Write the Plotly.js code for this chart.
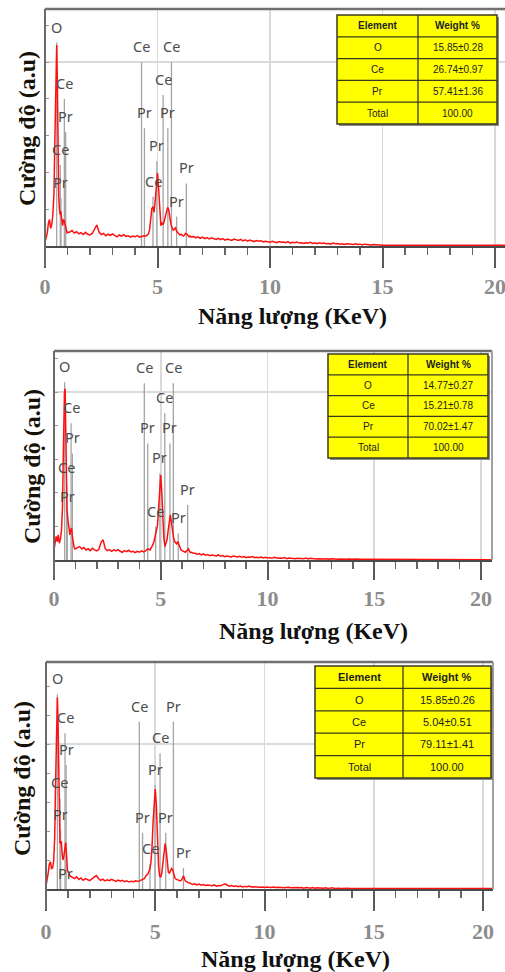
<!DOCTYPE html>
<html><head><meta charset="utf-8">
<script src="https://cdn.plot.ly/plotly-3.0.1.min.js"></script>
<style>html,body{margin:0;padding:0;background:#fff}#chart{width:505px;height:972px}</style>
</head><body><div id="chart"></div>
<script>
// ---- Energy axis (keV), shared by the three spectra ----
const energy = [
 0,0.05,0.1,0.15,0.2,0.25,0.3,0.35,0.4,0.43,0.46,0.49,0.52,0.55,0.58,0.61,0.64,0.67,0.7,0.74,0.78,0.82,0.86,0.9,0.94,0.98,
 1.1,1.2,1.3,1.4,1.5,1.6,1.7,1.8,1.9,2.0,2.1,2.2,2.3,2.4,2.5,2.6,2.7,2.8,2.9,3.0,3.1,3.2,3.3,3.4,3.5,3.6,3.7,3.8,3.9,4.0,4.1,4.2,4.3,4.4,4.5,4.6,
 4.65,4.7,4.75,4.8,4.85,4.9,4.95,5.0,5.05,5.1,5.15,5.2,5.25,5.3,5.35,5.4,5.45,5.5,5.55,5.6,5.65,5.7,5.75,5.8,5.85,5.9,5.95,6.0,6.05,6.1,6.15,6.2,6.25,6.3,6.35,6.4,6.45,6.5,
 6.6,6.7,6.8,6.9,7.0,7.1,7.2,7.3,7.4,7.5,
 7.6,7.7,7.8,7.9,8.0,8.1,8.2,8.3,8.4,8.5,
 8.6,8.7,8.8,8.9,9.0,9.1,9.2,9.3,9.4,9.5,
 9.6,9.7,9.8,9.9,10.0,10.1,10.2,10.3,10.4,10.5,
 10.6,10.7,10.8,10.9,11.0,11.1,11.2,11.3,11.4,11.5,
 11.6,11.7,11.8,11.9,12.0,12.1,12.2,12.3,12.4,12.5,
 12.6,12.7,12.8,12.9,13.0,13.1,13.2,13.3,13.4,13.5,
 13.6,13.7,13.8,13.9,14.0,14.1,14.2,14.3,14.4,14.5,
 14.6,14.7,14.8,14.9,15.0,
 15.1,20.5
];
// ---- Intensities (a.u.) ----
const intensity1 = [
 0.10,0.22,0.35,0.62,0.72,0.48,0.58,0.85,1.45,2.6,4.1,5.2,5.46,4.4,2.5,1.35,1.02,0.85,0.95,0.62,0.55,0.72,0.68,0.58,0.42,0.36,
 0.38,0.42,0.35,0.39,0.33,0.36,0.31,0.37,0.32,0.30,0.34,0.48,0.57,0.38,0.31,0.34,0.28,0.32,0.29,0.33,0.28,0.25,0.30,0.27,0.31,0.26,0.28,0.24,0.27,0.25,0.28,0.24,0.26,0.28,0.27,0.33,
 0.45,0.72,1.02,1.07,0.92,1.25,1.72,1.98,1.55,0.85,0.55,0.62,0.58,0.68,0.80,0.95,1.05,0.98,0.72,0.58,0.50,0.43,0.46,0.49,0.40,0.36,0.33,0.30,0.32,0.28,0.27,0.30,0.34,0.33,0.27,0.25,0.27,0.24,
 0.26,0.22,0.25,0.21,0.24,0.20,0.23,0.19,0.22,0.20,
 0.18,0.21,0.17,0.20,0.16,0.19,0.17,0.15,0.19,0.16,
 0.15,0.18,0.14,0.17,0.13,0.16,0.14,0.12,0.15,0.13,
 0.14,0.11,0.13,0.12,0.10,0.13,0.11,0.09,0.12,0.10,
 0.11,0.09,0.12,0.08,0.10,0.09,0.11,0.08,0.09,0.07,
 0.09,0.08,0.10,0.07,0.08,0.06,0.09,0.07,0.08,0.06,
 0.07,0.05,0.08,0.06,0.07,0.05,0.06,0.04,0.06,0.05,
 0.05,0.04,0.06,0.04,0.05,0.03,0.05,0.04,0.04,0.03,
 0.04,0.03,0.04,0.03,0.02,
 0.02,0.02
];
const intensity2 = [
 0.30,0.50,0.70,0.55,0.75,0.50,0.62,0.88,1.6,2.9,4.2,5.0,5.1,4.3,2.7,1.5,1.2,1.1,0.98,0.75,0.88,0.95,0.70,0.48,0.38,0.33,
 0.36,0.40,0.33,0.37,0.30,0.34,0.28,0.35,0.30,0.27,0.32,0.52,0.60,0.34,0.28,0.31,0.26,0.30,0.27,0.31,0.26,0.23,0.28,0.25,0.29,0.24,0.26,0.22,0.26,0.23,0.27,0.24,0.28,0.33,0.30,0.42,
 0.48,0.60,0.72,0.88,1.05,1.55,2.25,2.53,2.00,1.15,0.62,0.40,0.48,0.62,0.90,1.20,1.34,1.12,0.78,0.66,0.55,0.50,0.48,0.55,0.44,0.36,0.30,0.28,0.26,0.24,0.23,0.27,0.30,0.33,0.25,0.22,0.23,0.21,
 0.20,0.17,0.19,0.15,0.18,0.14,0.16,0.13,0.15,0.14,
 0.12,0.15,0.11,0.13,0.10,0.12,0.11,0.09,0.12,0.10,
 0.09,0.11,0.08,0.10,0.07,0.09,0.08,0.10,0.07,0.08,
 0.07,0.09,0.06,0.08,0.06,0.07,0.05,0.08,0.06,0.05,
 0.06,0.05,0.07,0.04,0.06,0.05,0.06,0.04,0.05,0.04,
 0.05,0.04,0.06,0.03,0.05,0.04,0.05,0.03,0.04,0.03,
 0.04,0.03,0.04,0.02,0.04,0.03,0.03,0.02,0.03,0.02,
 0.03,0.02,0.03,0.02,0.02,0.03,0.02,0.01,0.02,0.02,
 0.02,0.01,0.02,0.01,0.01,
 0.01,0.01
];
const intensity3 = [
 0.10,0.30,0.55,0.85,0.94,0.70,0.72,0.95,1.8,3.3,5.0,6.2,6.6,5.8,3.9,2.1,1.6,1.55,1.65,1.2,1.0,1.15,1.45,1.6,1.2,0.65,
 0.45,0.40,0.36,0.42,0.33,0.38,0.30,0.36,0.32,0.29,0.35,0.42,0.46,0.36,0.30,0.34,0.28,0.32,0.29,0.33,0.28,0.26,0.31,0.27,0.30,0.25,0.28,0.24,0.27,0.25,0.28,0.26,0.29,0.32,0.36,0.48,
 0.50,0.58,0.68,0.90,1.40,2.30,3.10,3.45,2.90,1.70,0.80,0.45,0.40,0.55,0.90,1.30,1.57,1.35,0.85,0.58,0.55,0.62,0.71,0.66,0.48,0.38,0.34,0.32,0.30,0.29,0.28,0.31,0.38,0.45,0.32,0.26,0.25,0.22,
 0.20,0.16,0.18,0.14,0.17,0.13,0.15,0.12,0.14,0.12,
 0.11,0.14,0.10,0.12,0.11,0.15,0.18,0.13,0.10,0.12,
 0.09,0.11,0.08,0.10,0.07,0.09,0.08,0.10,0.07,0.08,
 0.07,0.08,0.06,0.07,0.05,0.07,0.06,0.05,0.07,0.05,
 0.06,0.05,0.06,0.04,0.05,0.06,0.04,0.05,0.04,0.05,
 0.04,0.05,0.03,0.05,0.04,0.03,0.05,0.03,0.04,0.03,
 0.04,0.03,0.04,0.02,0.03,0.04,0.02,0.03,0.03,0.02,
 0.03,0.02,0.03,0.02,0.03,0.02,0.02,0.03,0.02,0.02,
 0.02,0.03,0.02,0.02,0.02,
 0.02,0.02
];
// ---- Element line markers: energy (keV), marker height (a.u.), label ----
const lineEnergy1 = [0.52,0.86,0.92,0.68,0.71,0.89,4.29,5.62,5.25,4.42,5.46,4.97,4.80,6.28,5.85];
const lineHeight1 = [5.53,4.0,3.1,2.2,1.3,-0.27,5.0,5.0,4.1,3.2,3.2,2.3,1.34,1.7,0.8];
const lineLabel1  = ['O','Ce','Pr','Ce','Pr','Pr','Ce','Ce','Ce','Pr','Pr','Pr','Ce','Pr','Pr'];
const lineEnergy2 = [0.50,0.80,0.86,0.59,0.62,0.82,4.23,5.59,5.19,4.39,5.43,4.96,4.76,6.26,5.82];
const lineHeight2 = [5.29,4.07,3.17,2.28,1.44,-0.23,5.26,5.26,4.37,3.47,3.47,2.58,0.99,1.64,0.79];
const lineLabel2  = ['O','Ce','Pr','Ce','Pr','Pr','Ce','Ce','Ce','Pr','Pr','Pr','Ce','Pr','Pr'];
const lineEnergy3 = [0.52,0.87,0.92,0.64,0.67,0.90,4.27,5.83,5.22,4.99,4.42,5.48,4.76,6.29];
const lineHeight3 = [6.71,5.37,4.28,3.13,2.03,0.0,5.77,5.77,4.68,3.59,1.94,1.94,0.86,0.73];
const lineLabel3  = ['O','Ce','Pr','Ce','Pr','Pr','Ce','Pr','Ce','Pr','Pr','Pr','Ce','Pr'];
// ---- Composition tables ----
const tableHeader = ['Element','Weight %'];
const tableElements = ['O','Ce','Pr','Total'];
const weight1 = ['15.85±0.28','26.74±0.97','57.41±1.36','100.00'];
const weight2 = ['14.77±0.27','15.21±0.78','70.02±1.47','100.00'];
const weight3 = ['15.85±0.26','5.04±0.51','79.11±1.41','100.00'];
const xTickVals = [0,5,10,15,20];
const xTitleText = 'Năng lượng (KeV)';
const yTitleText = 'Cường độ (a.u)';

// ---- Layout geometry (pixels) ----
const W = 505, H = 972;
const panels = [
 {left:45, right:505, base:246, top:9,   pxKeV:22.5,  pxUnit:36.8, tickLen:20, standoff:0, rightBorder:false,
  table:{l:337,r:497,t:15,b:124,div:418,fs:10}, xt:[292,316], yt:[27,129],
  data:intensity1, le:lineEnergy1, lh:lineHeight1, ll:lineLabel1, w:weight1},
 {left:54, right:492, base:560, top:351, pxKeV:21.35, pxUnit:33.6, tickLen:18, standoff:0, rightBorder:true,
  table:{l:328,r:488,t:354,b:458,div:408,fs:10}, xt:[313,631], yt:[32,467],
  data:intensity2, le:lineEnergy2, lh:lineHeight2, ll:lineLabel2, w:weight2},
 {left:46, right:493, base:889, top:662, pxKeV:21.85, pxUnit:29, tickLen:20, standoff:2, rightBorder:true,
  table:{l:315,r:491,t:666,b:778,div:403,fs:11}, xt:[295,959], yt:[22,779],
  data:intensity3, le:lineEnergy3, lh:lineHeight3, ll:lineLabel3, w:weight3}
];
const px = x => x / W, py = y => 1 - y / H;

const traces = [], shapes = [], annotations = [];
const layout = {width:W, height:H, margin:{l:0,r:0,t:0,b:0}, paper_bgcolor:'#fff', plot_bgcolor:'#fff',
  showlegend:false, font:{family:'Liberation Sans, Arial, sans-serif'}};

panels.forEach((p, i) => {
  const n = i === 0 ? '' : String(i + 1);
  const xa = 'x' + n, ya = 'y' + n;
  const xr = (p.right - p.left) / p.pxKeV;
  const yr = (p.base - p.top) / p.pxUnit;
  layout['xaxis' + n] = {
    domain:[px(p.left), px(p.right)], range:[0, xr], anchor:ya,
    tickmode:'array', tickvals:xTickVals, ticks:'outside', ticklen:p.tickLen, tickwidth:2, tickcolor:'#5a5a5a',
    ticklabelstandoff:p.standoff, ticklabeloverflow:'allow',
    tickfont:{family:'Liberation Serif, Times New Roman, serif', size:22, color:'#8c8c8c', weight:'bold'},
    showgrid:true, gridcolor:'#dadada', gridwidth:1.6, zeroline:false,
    showline:true, linecolor:'#4a4a4a', linewidth:1.6,
    minor:{tickmode:'linear', tick0:0, dtick:1, ticks:'outside', ticklen:7, tickwidth:1.6, tickcolor:'#666', showgrid:false},
    fixedrange:true
  };
  layout['yaxis' + n] = {
    domain:[py(p.base), py(p.top)], range:[0, yr], anchor:xa,
    tickmode:'array', tickvals:[5], ticks:'inside', ticklen:4, tickcolor:'#999', showticklabels:false,
    showgrid:true, gridcolor:'#dadada', gridwidth:1.6, zeroline:false, showline:false,
    minor:{tickmode:'linear', tick0:0, dtick:1, ticks:'inside', ticklen:4, tickwidth:1, tickcolor:'#999', showgrid:false},
    fixedrange:true
  };
  // element marker lines
  const mx = [], my = [];
  p.le.forEach((e, k) => { mx.push(e, e, null); my.push(0, p.lh[k], null); });
  traces.push({type:'scatter', mode:'lines', x:mx, y:my, xaxis:xa, yaxis:ya,
    line:{color:'#a4a4a4', width:1.3}, hoverinfo:'skip'});
  // spectrum
  traces.push({type:'scatter', mode:'lines', x:energy, y:p.data, xaxis:xa, yaxis:ya,
    line:{color:'#ff1010', width:1.5}, hoverinfo:'skip'});
  // labels
  p.le.forEach((e, k) => annotations.push({xref:xa, yref:ya, x:e, y:p.lh[k], yshift:16, text:p.ll[k],
    showarrow:false, xanchor:'center', yanchor:'middle',
    font:{family:'Noto Sans, Open Sans, sans-serif', size:14.5, color:'#4d4d4d'}}));
  // frame
  shapes.push({type:'line', xref:'paper', yref:'paper', x0:px(p.left), x1:px(p.left),
    y0:py(p.base + p.tickLen), y1:py(p.top), line:{color:'#6a6a6a', width:2}});
  shapes.push({type:'line', xref:'paper', yref:'paper', x0:px(p.left), x1:px(p.right),
    y0:py(p.top), y1:py(p.top), line:{color:'#707070', width:2.5}});
  if (p.rightBorder) shapes.push({type:'line', xref:'paper', yref:'paper', x0:px(p.right), x1:px(p.right),
    y0:py(p.base), y1:py(p.top), line:{color:'#a0a0a0', width:2}});
  // titles
  annotations.push({xref:'paper', yref:'paper', x:px(p.xt[0]), y:py(p.xt[1]), text:xTitleText, showarrow:false,
    xanchor:'center', yanchor:'middle', font:{family:'Liberation Serif, Times New Roman, serif', size:24, color:'#111', weight:'bold'}});
  annotations.push({xref:'paper', yref:'paper', x:px(p.yt[0]), y:py(p.yt[1]), text:yTitleText, showarrow:false, textangle:-90,
    xanchor:'center', yanchor:'middle', font:{family:'Liberation Serif, Times New Roman, serif', size:24, color:'#161208', weight:'bold'}});
  // composition table (drawn cell by cell)
  const t = p.table, rh = (t.b - t.t) / 5;
  shapes.push({type:'rect', xref:'paper', yref:'paper', x0:px(t.l + 2), x1:px(t.r + 2), y0:py(t.b + 2), y1:py(t.t + 2),
    fillcolor:'#8a8a8a', line:{width:0}});
  shapes.push({type:'rect', xref:'paper', yref:'paper', x0:px(t.l), x1:px(t.r), y0:py(t.b), y1:py(t.t),
    fillcolor:'#ffff00', line:{color:'#3a3a20', width:1.5}});
  for (let k = 1; k < 5; k++) shapes.push({type:'line', xref:'paper', yref:'paper', x0:px(t.l), x1:px(t.r),
    y0:py(t.t + k * rh), y1:py(t.t + k * rh), line:{color:'#3a3a20', width:1.3}});
  shapes.push({type:'line', xref:'paper', yref:'paper', x0:px(t.div), x1:px(t.div), y0:py(t.b), y1:py(t.t),
    line:{color:'#3a3a20', width:1.3}});
  const rows = [tableHeader].concat(tableElements.map((e, k) => [e, p.w[k]]));
  const cx = [(t.l + t.div) / 2, (t.div + t.r) / 2];
  rows.forEach((row, r) => row.forEach((txt, c) => annotations.push({xref:'paper', yref:'paper',
    x:px(cx[c]), y:py(t.t + (r + 0.5) * rh), text: r === 0 ? '<b>' + txt + '</b>' : txt, showarrow:false,
    xanchor:'center', yanchor:'middle',
    font:{family:'Liberation Sans Narrow, Arial Narrow, Liberation Sans, sans-serif', size:t.fs, color:'#222'}})));
});
layout.shapes = shapes;
layout.annotations = annotations;
Plotly.newPlot('chart', traces, layout, {staticPlot:true, displayModeBar:false});
</script></body></html>
